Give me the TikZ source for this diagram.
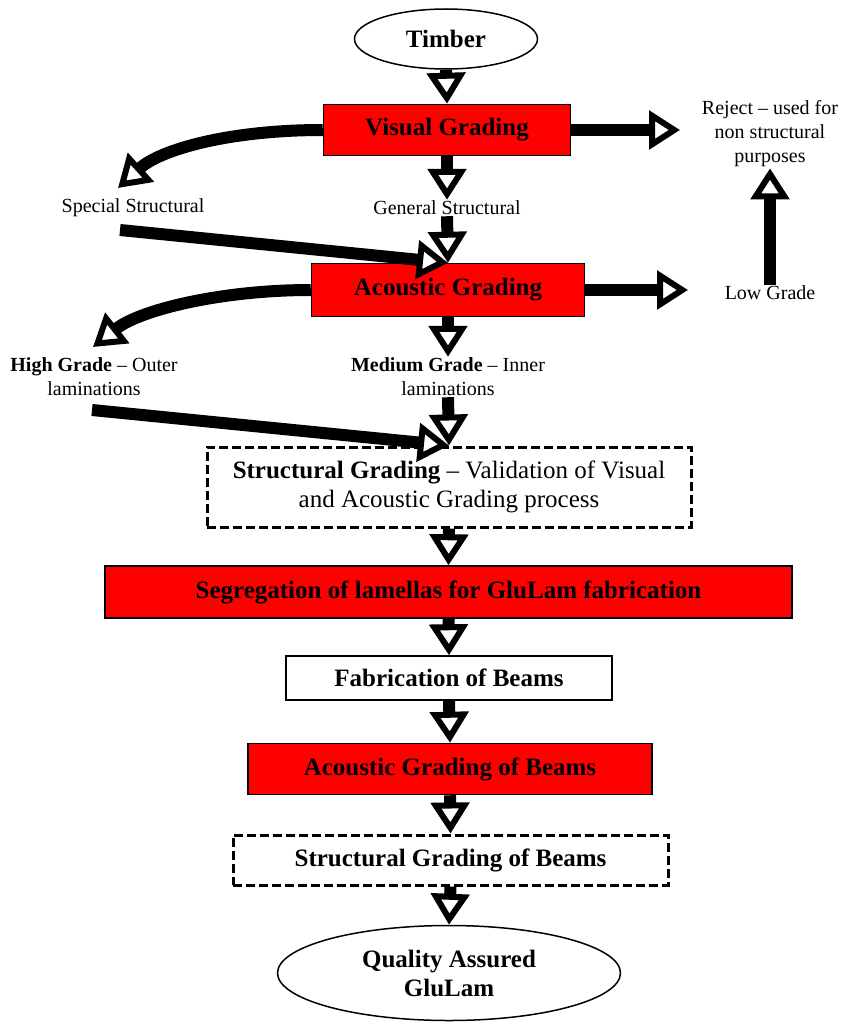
\documentclass[tikz,border=0pt]{standalone}
\usepackage{fontspec}
\setmainfont{Liberation Serif}
\usetikzlibrary{arrows.meta,shapes.geometric}

\tikzset{
  flow/.style={line width=12pt,
    -{Triangle[open,fill=white,length=31pt,width=38pt,line width=6pt]}},
  lbl/.style={inner sep=1pt, font=\fontsize{20}{24}\selectfont},
  redbox/.style={draw, line width=1.5pt, fill=red, inner sep=2pt,
    font=\fontsize{25}{29}\selectfont\bfseries},
  plainbox/.style={draw, line width=1.5pt, fill=white, inner sep=2pt,
    font=\fontsize{25}{29}\selectfont\bfseries},
  dashbox/.style={draw, line width=3pt, dash pattern=on 9pt off 4pt,
    inner sep=2pt, font=\fontsize{25}{29}\selectfont},
  term/.style={ellipse, draw, line width=1.5pt, inner sep=0pt,
    font=\fontsize{25}{29}\selectfont\bfseries}
}

\begin{document}
\begin{tikzpicture}[x=1pt,y=-1pt]
 \useasboundingbox (0,0) rectangle (846,1027);
 % grading line
 \node[term, minimum width=183pt, minimum height=60pt] (timber) at (446,39) {Timber};
 \node[redbox, minimum width=247pt, minimum height=51pt] (vis) at (447,130) {Visual Grading};
 \node[lbl] (gen) at (447,208) {General Structural};
 \node[lbl] (spec) at (133,208) {Special Structural};
 \node[lbl, align=center] (rej) at (770,134) {Reject -- used for\\non structural\\purposes};
 \node[redbox, minimum width=273pt, minimum height=53pt] (acou) at (448,290) {Acoustic Grading};
 \node[lbl] (low) at (770,293) {Low Grade};
 \node[lbl, align=center] (high) at (94,377) {\textbf{High Grade} -- Outer\\laminations};
 \node[lbl, align=center] (med) at (448,377) {\textbf{Medium Grade} -- Inner\\laminations};
 \node[dashbox, minimum width=484pt, minimum height=80pt, align=center] (sgrade) at (449,487)
   {\textbf{Structural Grading} -- Validation of Visual\\and Acoustic Grading process};
 % fabrication line
 \node[redbox, minimum width=687pt, minimum height=52pt] (seg) at (448.5,592) {Segregation of lamellas for GluLam fabrication};
 \node[plainbox, minimum width=326pt, minimum height=44pt] (fab) at (449,678) {Fabrication of Beams};
 \node[redbox, minimum width=404pt, minimum height=51pt] (abeam) at (450,769) {Acoustic Grading of Beams};
 \node[dashbox, minimum width=435pt, minimum height=50pt] (sbeam) at (450.5,860) {\bfseries Structural Grading of Beams};
 \node[term, minimum width=343pt, minimum height=95pt, align=center] (qa) at (449,973) {Quality Assured\\GluLam};

 \coordinate (rejin) at (680,130);
 \coordinate (lowin) at (688,290);
 \coordinate (spectip) at (118,188);
 \coordinate (hightip) at (93,347);
 \coordinate (specout) at (120,230);
 \coordinate (highout) at (92,410);

 \path[flow]
  (timber.south) edge (vis.north)
  (vis.south) edge (gen.north)
  (vis.east) edge (rejin)
  (gen.south) edge (acou.north)
  (acou.south) edge (med.north)
  (acou.east) edge (lowin)
  (low.north) edge (rej.south)
  (med.south) edge (sgrade.north)
  (specout) edge (acou.north)
  (highout) edge (sgrade.north)
  (sgrade.south) edge (seg.north)
  (seg.south) edge (fab.north)
  (fab.south) edge (abeam.north)
  (abeam.south) edge (sbeam.north)
  (sbeam.south) edge (qa.north)
 ;
 \draw[flow] (vis.west) .. controls +(-95,0) and +(42,-38) .. (spectip);
 \draw[flow] (acou.west) .. controls +(-90,0) and +(47,-37) .. (hightip);
\end{tikzpicture}
\end{document}
